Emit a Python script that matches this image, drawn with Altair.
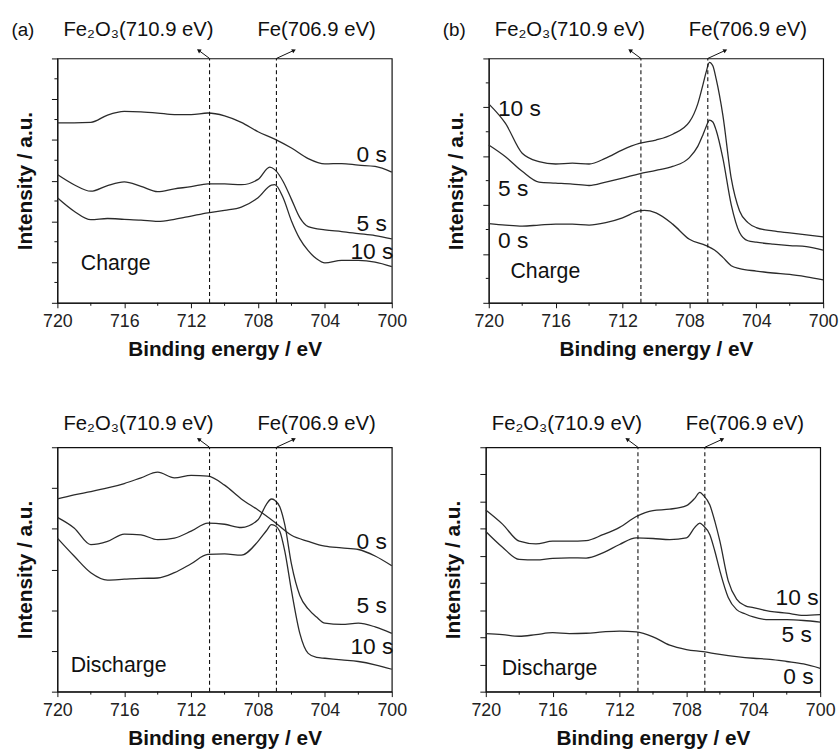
import altair as alt
import pandas as pd

# ---------------- data ----------------
E_STD = [720, 719, 718, 717, 716, 715, 714, 713, 712, 711, 710,
         709, 708, 707, 706, 705, 704, 703, 702, 701, 700]

# (a) Charge
A_C_0S_E = E_STD
A_C_0S_I = [44.2, 44.2, 44.3, 46.1, 47.0, 46.9, 46.6, 46.2, 46.2, 46.6, 45.9,
            44.3, 42.0, 40.2, 38.0, 35.4, 34.1, 34.2, 33.8, 33.5, 32.1]
A_C_5S_E = [720, 719, 718, 717, 716, 715, 714, 713, 712, 711, 710, 709, 708,
            707.3, 707, 706.5, 706, 705.5, 705, 704, 703, 702, 701, 700]
A_C_5S_I = [31.5, 29.0, 27.4, 28.8, 29.7, 28.6, 27.3, 28.0, 28.5, 29.2, 29.2, 29.0, 30.3,
            33.3, 32.7, 29.8, 25.4, 20.9, 18.7, 17.9, 17.5, 17.0, 16.5, 15.7]
A_C_10S_E = [720, 719, 718, 717, 716, 715, 714, 713, 712, 711, 710, 709, 708,
             707.2, 707, 706.5, 706, 705.5, 705, 704.5, 704, 703, 702, 701, 700]
A_C_10S_I = [25.8, 22.5, 20.4, 20.7, 20.5, 20.3, 20.0, 20.5, 21.3, 22.1, 22.7, 23.5, 25.8,
             28.9, 29.0, 25.8, 20.1, 15.7, 12.8, 10.8, 9.8, 10.4, 10.4, 10.0, 8.9]

# (b) Charge
B_C_PEAK_E = [720, 719, 718, 717, 716, 715, 714, 713, 712, 711, 710, 709, 708,
              707.5, 707.2, 707, 706.8, 706.6, 706.4, 706, 705.5, 705, 704.5, 704,
              703, 702, 701, 700]
B_C_10S_I = [40.7, 36.7, 30.6, 28.9, 28.4, 28.6, 28.4, 29.6, 31.3, 32.6, 33.3, 34.5, 37.0,
             40.7, 44.5, 47.2, 49.2, 48.5, 45.8, 38.4, 25.5, 18.8, 16.4, 15.4,
             14.7, 14.3, 13.9, 13.5]
B_C_5S_I = [32.3, 29.9, 26.9, 24.7, 24.5, 24.3, 24.0, 24.7, 25.5, 26.4, 27.1, 27.9, 29.7,
            32.0, 34.3, 36.0, 37.4, 37.0, 35.3, 29.6, 20.1, 14.4, 12.7, 12.4,
            12.0, 11.7, 11.5, 10.8]
B_C_0S_E = [720, 719, 718, 717, 716, 715, 714, 713, 712, 711, 710.7, 710, 709, 708,
            707, 706.5, 706, 705.5, 705, 704, 703, 702, 701, 700]
B_C_0S_I = [16.2, 15.9, 15.7, 15.9, 16.1, 16.1, 15.9, 16.4, 17.4, 18.8, 18.9, 18.4, 16.1, 13.0,
            11.7, 10.8, 9.3, 7.6, 7.0, 6.5, 6.1, 5.8, 5.3, 4.7]

# (a) Discharge
A_D_0S_E = E_STD
A_D_0S_I = [47.3, 48.3, 49.1, 50.0, 51.1, 52.5, 53.9, 52.5, 53.1, 52.9, 50.7,
            47.3, 44.6, 41.6, 38.4, 36.9, 35.7, 35.3, 34.9, 33.3, 30.9]
A_D_PEAK_E = [720, 719, 718, 717, 716, 715, 714, 713, 712, 711, 710, 709, 708,
              707.5, 707.2, 707, 706.7, 706.4, 706, 705.5, 705, 704.5, 704,
              703, 702, 701, 700]
A_D_5S_I = [42.8, 40.2, 36.1, 36.9, 38.7, 38.5, 37.3, 37.7, 39.4, 41.4, 41.1, 40.3, 42.2,
            46.0, 47.3, 47.0, 45.4, 41.0, 31.3, 23.6, 20.3, 18.3, 16.8,
            16.5, 16.8, 15.9, 14.3]
A_D_10S_I = [37.7, 33.3, 29.2, 27.4, 27.6, 27.8, 27.9, 29.2, 31.4, 33.7, 33.8, 33.5, 36.9,
             39.5, 41.0, 40.8, 39.4, 34.5, 24.8, 14.3, 9.4, 8.4, 8.2,
             7.8, 7.4, 6.6, 5.5]

# (b) Discharge
B_D_PEAK_E = [720, 719, 718, 717, 716, 715, 714, 713, 712, 711, 710, 709, 708,
              707.5, 707.2, 707, 706.6, 706.3, 706, 705.5, 705, 704.5, 704,
              703, 702, 701, 700]
B_D_10S_I = [66.9, 61.7, 55.4, 54.4, 55.4, 55.4, 55.6, 57.8, 60.5, 64.5, 66.7, 67.2, 68.5,
             71.2, 73.4, 72.4, 68.7, 62.7, 55.4, 40.8, 34.1, 31.7, 30.9,
             29.6, 28.9, 28.1, 28.4]
B_D_5S_I = [59.0, 53.2, 48.7, 48.5, 49.1, 49.3, 49.2, 51.1, 54.2, 56.6, 56.4, 56.0, 56.6,
            60.5, 62.1, 61.2, 57.8, 51.7, 44.5, 34.7, 30.2, 28.7, 27.5,
            26.5, 26.5, 26.2, 25.6]
B_D_0S_E = E_STD
B_D_0S_I = [21.4, 21.0, 20.4, 21.0, 21.7, 21.4, 21.5, 22.0, 22.3, 22.0, 20.2,
            17.1, 15.5, 14.7, 13.7, 12.9, 12.3, 11.9, 11.1, 10.2, 8.6]

# series labels: (text, E, I, align)
A_C_LABELS = [("0 s", 700.3, 36.2, "right"), ("5 s", 700.3, 19.3, "right"),
              ("10 s", 699.9, 12.4, "right"), ("Charge", 718.6, 9.5, "left")]
B_C_LABELS = [("10 s", 719.45, 39.7, "left"), ("5 s", 719.45, 23.2, "left"),
              ("0 s", 719.45, 12.7, "left"), ("Charge", 718.7, 6.3, "left")]
A_D_LABELS = [("0 s", 700.3, 36.8, "right"), ("5 s", 700.3, 21.1, "right"),
              ("10 s", 699.9, 10.9, "right"), ("Discharge", 719.2, 6.3, "left")]
B_D_LABELS = [("10 s", 700.1, 34.5, "right"), ("5 s", 700.5, 20.8, "right"),
              ("0 s", 700.4, 5.2, "right"), ("Discharge", 719.05, 8.3, "left")]

REF_E = [710.9, 706.9]
REF_TEXT = ["Fe\u2082O\u2083(710.9 eV)", "Fe(706.9 eV)"]
REF_TEXT_E = [715.15, 704.5]
ARROW_END_E = [711.55, 705.85]
ARROW_ANGLE = [304, 64]

X_MAJOR = [720, 716, 712, 708, 704, 700]
X_MINOR = [718, 714, 710, 706, 702]

# ---------------- styling ----------------
W, H = 338, 247
FONT = "Liberation Sans"
LINE_COLOR = "#2b2b2b"


def panel(series, ymax, ystep, yminor, labels, tag, text_frac):
    xs = alt.Scale(domain=[700, 720], reverse=True, nice=False, zero=False)
    ys = alt.Scale(domain=[0, ymax], nice=False, zero=False)
    xaxis = alt.Axis(values=X_MAJOR, title="Binding energy / eV", grid=False,
                     labelFlush=False, tickSize=5, labelPadding=5, titlePadding=8,
                     labelFontSize=18, labelFont=FONT, labelColor="#222",
                     titleFont=FONT, titleFontSize=21, titleFontWeight="bold",
                     titleColor="#111", domainColor="#111", tickColor="#111")
    yaxis = alt.Axis(values=list(range(0, ymax + 1, ystep)), labels=False,
                     title="Intensity / a.u.", grid=False, tickSize=6,
                     titlePadding=16, titleFont=FONT, titleFontSize=21,
                     titleFontWeight="bold", titleColor="#111",
                     domainColor="#111", tickColor="#111")

    def X(f="E"):
        return alt.X(f"{f}:Q", scale=xs, axis=xaxis)

    def Y(f="I"):
        return alt.Y(f"{f}:Q", scale=ys, axis=yaxis)

    rows = []
    for name, es, vals in series:
        for e, v in zip(es, vals):
            rows.append({"E": e, "I": v, "s": name})
    df = pd.DataFrame(rows)

    lines = alt.Chart(df).mark_line(color=LINE_COLOR, strokeWidth=1.3,
                                    interpolate="monotone").encode(
        x=X(), y=Y(), detail="s:N", order="E:Q")

    dash_df = pd.DataFrame({"E": REF_E, "I": [0, 0], "I2": [ymax, ymax]})
    dashes = alt.Chart(dash_df).mark_rule(color="#111", strokeWidth=1.1,
                                          strokeDash=[4, 3]).encode(
        x=X(), y=Y(), y2="I2:Q")

    xminor = alt.Chart(pd.DataFrame({"E": X_MINOR})).mark_rule(
        color="#111", strokeWidth=1).encode(x=X(), y=alt.value(H), y2=alt.value(H + 3))

    layers = [lines, dashes, xminor]
    if yminor:
        ym = [v + ystep / 2 for v in range(0, ymax, ystep)]
        yminor_ch = alt.Chart(pd.DataFrame({"I": ym})).mark_rule(
            color="#111", strokeWidth=1).encode(y=Y(), x=alt.value(0), x2=alt.value(-3))
        layers.append(yminor_ch)

    lab_df = pd.DataFrame(labels, columns=["t", "E", "I", "a"])
    for al in ["left", "right"]:
        for kind, fs in [("time", 23), ("word", 21.5)]:
            if kind == "time":
                sub = lab_df[(lab_df["a"] == al) & lab_df["t"].str.endswith(" s")]
            else:
                sub = lab_df[(lab_df["a"] == al) & ~lab_df["t"].str.endswith(" s")]
            if len(sub):
                layers.append(alt.Chart(sub).mark_text(
                    align=al, baseline="middle", font=FONT, fontSize=fs,
                    color="#111").encode(x=X(), y=Y(), text="t:N"))

    ty = ymax * text_frac
    ann_df = pd.DataFrame({"E": REF_TEXT_E, "I": [ty, ty], "t": REF_TEXT})
    layers.append(alt.Chart(ann_df).mark_text(
        align="center", baseline="middle", font=FONT, fontSize=20.5,
        color="#111").encode(x=X(), y=Y(), text="t:N"))

    ay = ymax * 1.033
    arr_df = pd.DataFrame({"E": REF_E, "I": [ymax, ymax],
                           "E2": ARROW_END_E, "I2": [ay, ay], "ang": ARROW_ANGLE})
    layers.append(alt.Chart(arr_df).mark_rule(color="#111", strokeWidth=1).encode(
        x=X(), y=Y(), x2="E2:Q", y2="I2:Q"))
    layers.append(alt.Chart(arr_df).mark_point(
        shape="triangle-up", filled=True, size=22, color="#111", opacity=1).encode(
        x=X("E2"), y=Y("I2"), angle=alt.Angle("ang:Q", scale=None)))

    if tag:
        tag_df = pd.DataFrame({"E": [722.75], "I": [ymax * text_frac], "t": [tag]})
        layers.append(alt.Chart(tag_df).mark_text(
            align="left", baseline="middle", font=FONT, fontSize=19,
            color="#111").encode(x=X(), y=Y(), text="t:N"))

    return alt.layer(*layers).properties(width=W, height=H)


tl = panel([("0 s", A_C_0S_E, A_C_0S_I), ("5 s", A_C_5S_E, A_C_5S_I),
            ("10 s", A_C_10S_E, A_C_10S_I)], 60, 10, True, A_C_LABELS, "(a)", 1.117)
tr = panel([("10 s", B_C_PEAK_E, B_C_10S_I), ("5 s", B_C_PEAK_E, B_C_5S_I),
            ("0 s", B_C_0S_E, B_C_0S_I)], 50, 10, True, B_C_LABELS, "(b)", 1.117)
bl = panel([("0 s", A_D_0S_E, A_D_0S_I), ("5 s", A_D_PEAK_E, A_D_5S_I),
            ("10 s", A_D_PEAK_E, A_D_10S_I)], 60, 10, False, A_D_LABELS, None, 1.093)
br = panel([("10 s", B_D_PEAK_E, B_D_10S_I), ("5 s", B_D_PEAK_E, B_D_5S_I),
            ("0 s", B_D_0S_E, B_D_0S_I)], 90, 10, False, B_D_LABELS, None, 1.093)

chart = alt.vconcat(
    alt.hconcat(tl, tr, spacing=34),
    alt.hconcat(bl, br, spacing=34),
    spacing=54,
).properties(
    padding={"left": 10, "top": 15, "right": 0, "bottom": 5},
    background="white",
).configure_view(stroke="#111", strokeWidth=1.2)

chart.save("out.html", embed_options={"renderer": "svg", "actions": False})
